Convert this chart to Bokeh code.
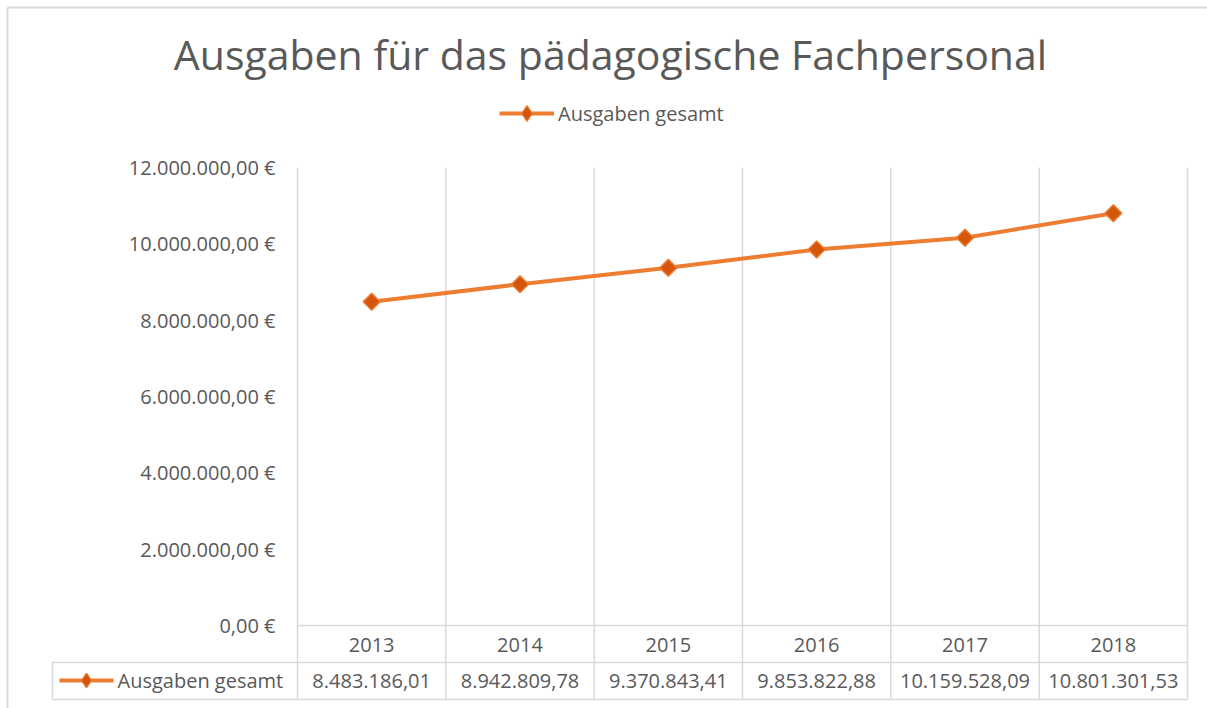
import math
from bokeh.plotting import figure
from bokeh.models import (Range1d, FixedTicker, Legend, LegendItem, ColumnDataSource, Label)
from bokeh.core.properties import value
from bokeh.embed import file_html
from bokeh.resources import INLINE

# ---- data ----
years = ["2013", "2014", "2015", "2016", "2017", "2018"]
ausgaben = [8483186.01, 8942809.78, 9370843.41, 9853822.88, 10159528.09, 10801301.53]
series_name = "Ausgaben gesamt"
title_text = "Ausgaben für das pädagogische Fachpersonal"
y_ticks = [0, 2000000, 4000000, 6000000, 8000000, 10000000, 12000000]

def de_fmt(v):
    s = f"{v:,.2f}"
    return s.replace(",", "X").replace(".", ",").replace("X", ".")

# ---- layout constants (canvas pixels) ----
W, H = 1207, 708
PX_X0, CAT_W = 297, 148.33          # x=0 position, category width
PX_Y0, PX_YTOP = 625, 167            # y=0 and y=12M
K = y_ticks[-1] / (PX_Y0 - PX_YTOP)  # value per pixel

def xd(px):
    return (px - PX_X0) / CAT_W

def yd(px):
    return (PX_Y0 - px) * K

FONT = "Open Sans"
TXT = "#595959"
GRID = "#d9d9d9"
ORANGE = "#ED7D31"
DARK = "#D4560B"

p = figure(width=W, height=H, output_backend="svg", toolbar_location=None,
           title_location=None,
           x_range=Range1d(xd(0), xd(W)), y_range=Range1d(yd(H), yd(0)),
           min_border=0, background_fill_color="white", border_fill_color="white")
p.outline_line_color = None

n = len(years)
XL = 52                               # table left edge

# chart area border (top / left)
p.segment(x0=[xd(7), xd(7)], y0=[yd(7), yd(7)], x1=[xd(W), xd(7)], y1=[yd(7), yd(H)],
          line_color=GRID, line_width=2)

# axes
p.xaxis.visible = False
p.xgrid.visible = False
p.ygrid.visible = False

ya = p.yaxis[0]
ya.fixed_location = 0
ya.ticker = FixedTicker(ticks=y_ticks)
ya.major_label_overrides = {t: de_fmt(t) + " €" for t in y_ticks}
ya.axis_line_color = None
ya.major_tick_line_color = None
ya.minor_tick_line_color = None
ya.major_label_standoff = 16
ya.major_label_text_font = FONT
ya.major_label_text_font_size = "20px"
ya.major_label_text_color = TXT

# vertical category boundaries (plot area + data table)
bounds = list(range(n + 1))
p.segment(x0=bounds, y0=[yd(699)] * (n + 1), x1=bounds, y1=[y_ticks[-1]] * (n + 1),
          line_color=GRID, line_width=1.5)
# table horizontal lines + left border of legend-key cell
p.segment(x0=[0, xd(XL), xd(XL), xd(XL)], y0=[0, yd(662), yd(699), yd(662)],
          x1=[n, n, n, xd(XL)], y1=[0, yd(662), yd(699), yd(699)],
          line_color=GRID, line_width=1.5)

# series
xc = [i + 0.5 for i in range(n)]
src = ColumnDataSource(dict(x=xc, y=ausgaben))
ln = p.line("x", "y", source=src, line_color=ORANGE, line_width=4)
mk = p.scatter("x", "y", source=src, marker="square", angle=math.pi / 4, size=12,
               fill_color=DARK, line_color=ORANGE, line_width=1.5)
# legend proxy marker (diamond shape as in the legend key; no visible point)
mk_leg = p.scatter(x=[float("nan")], y=[float("nan")], marker="diamond", size=16,
                   fill_color=DARK, line_color=ORANGE, line_width=1.2)

# table texts
p.text(x=xc, y=[yd(644)] * n, text=years, text_align="center",
       text_baseline="middle", text_font=value(FONT), text_font_size="20px",
       text_color=TXT)
p.text(x=xc, y=[yd(680)] * n, text=[de_fmt(v) for v in ausgaben],
       text_align="center", text_baseline="middle", text_font=value(FONT),
       text_font_size="20px", text_color=TXT)
# table legend key
p.line(x=[xd(59), xd(113)], y=[yd(680)] * 2, line_color=ORANGE, line_width=4)
p.scatter(x=[xd(86)], y=[yd(680)], marker="diamond", size=15,
          fill_color=DARK, line_color=ORANGE, line_width=1.2)
p.text(x=[xd(117)], y=[yd(680)], text=[series_name], text_align="left",
       text_baseline="middle", text_font=value(FONT), text_font_size="20px",
       text_color=TXT)

# title
p.add_layout(Label(x=xd(610), y=yd(53), text=title_text, text_align="center",
                   text_baseline="middle", text_font=FONT, text_font_size="41px",
                   text_color=TXT))

# legend (screen px relative to frame bottom-left)
leg = Legend(items=[LegendItem(label=series_name, renderers=[ln, mk_leg])],
             orientation="horizontal", location=(499, H - 133),
             label_text_font=FONT, label_text_font_size="20px",
             label_text_color=TXT, glyph_width=55, glyph_height=40,
             label_standoff=4, border_line_color=None,
             background_fill_alpha=0, padding=4, margin=0)
p.add_layout(leg)

open("out.html", "w").write(file_html(p, INLINE))
